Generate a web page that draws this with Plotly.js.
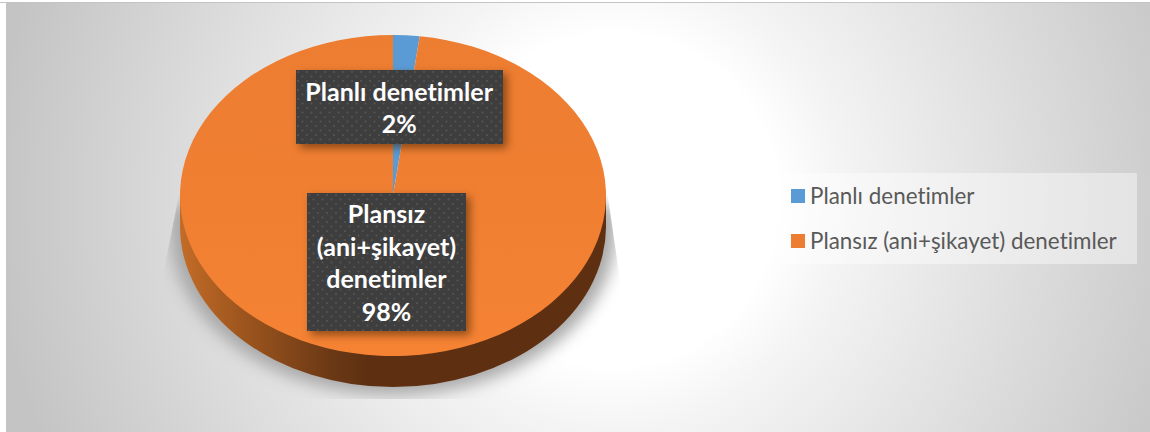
<!DOCTYPE html>
<html>
<head>
<meta charset="utf-8">
<script src="https://cdn.plot.ly/plotly-3.0.1.min.js"></script>
<style>
html,body{margin:0;padding:0;background:#fff;}
#stage{position:relative;width:1150px;height:432px;overflow:hidden;background:#fff;}
#bg{position:absolute;left:6px;top:3px;width:1144px;height:429px;background:radial-gradient(circle 620px at 606px 197px,#fff 0,#fff 165px,#f4f4f4 230px,#c4c4c4 620px);}
#topline{position:absolute;left:0;top:2px;width:1150px;height:1px;background:#c4c4c4;}
#shadowclip{position:absolute;left:0;top:0;width:1150px;height:432px;clip-path:polygon(184px 170px,164px 270px,164px 399px,622px 399px,620px 280px,604px 170px);}
#shadow{position:absolute;left:170px;top:205px;width:446px;height:190px;background:#a8a8a8;border-radius:0 0 223px 223px / 0 0 165px 165px;filter:blur(8px);}
#wall{position:absolute;left:180px;top:195.5px;width:426px;height:191.5px;background:linear-gradient(90deg,#c36c28 0,#a95c20 10%,#6a3815 36%,#5e3011 44%,#5e3011 100%);border-radius:0 0 213px 213px / 0 0 160.5px 160.5px;}
#chart{position:absolute;left:0;top:0;width:1150px;height:432px;}
</style>
</head>
<body>
<div id="stage">
  <div id="bg"></div>
  <div id="topline"></div>
  <div id="shadowclip"><div id="shadow"></div></div>
  <div id="wall"></div>
  <div id="chart"></div>
</div>
<script>
const categories = ['Planlı denetimler', 'Plansız (ani+şikayet) denetimler'];
const shares = [2, 98];
const sliceColors = ['#5b9bd5', '#ed7d31'];
const labelLines = [['Planlı denetimler'], ['Plansız', '(ani+şikayet)', 'denetimler']];

const W = 1150, H = 432;
const cx = 393, rx = 213, cyTop = 195.5, ry = 160.5;
const boxes = [
  {cx: 399.5, cy: 107, w: 207, h: 74},
  {cx: 386.5, cy: 262, w: 159, h: 138}
];

const data = [{
  type: 'pie',
  labels: categories,
  values: shares,
  sort: false,
  direction: 'clockwise',
  rotation: 0,
  textinfo: 'none',
  hoverinfo: 'skip',
  marker: {colors: sliceColors, line: {width: 0}},
  domain: {x: [(cx - rx) / W, (cx + rx) / W], y: [(H / 2 - rx) / H, (H / 2 + rx) / H]}
}];

const annotations = categories.map((c, i) => ({
  xref: 'paper', yref: 'paper',
  x: boxes[i].cx / W, y: 1 - boxes[i].cy / H,
  xanchor: 'center', yanchor: 'middle',
  width: boxes[i].w, height: boxes[i].h,
  showarrow: false, borderpad: 0, borderwidth: 0,
  bgcolor: '#3e3e3e',
  align: 'center', valign: 'middle',
  text: labelLines[i].concat([shares[i] + '%']).join('<br>'),
  font: {family: 'Lato, "Open Sans", sans-serif', size: 25, color: '#ffffff', weight: 700}
}));

const layout = {
  width: W, height: H,
  margin: {l: 0, r: 0, t: 0, b: 0},
  paper_bgcolor: 'rgba(0,0,0,0)',
  plot_bgcolor: 'rgba(0,0,0,0)',
  showlegend: true,
  legend: {
    x: 779 / W, xanchor: 'left', y: 1 - 173 / H, yanchor: 'top',
    bgcolor: 'rgba(255,255,255,0.42)', borderwidth: 0,
    font: {family: 'Lato, "Open Sans", sans-serif', size: 22.4, color: '#595959'},
    itemclick: false, itemdoubleclick: false
  },
  annotations
};

Plotly.newPlot('chart', data, layout, {displayModeBar: false, staticPlot: true}).then(gd => {
  const svgs = gd.querySelectorAll('svg.main-svg');
  const NS = 'http://www.w3.org/2000/svg';
  // squash the round pie into the tilted ellipse of the reference
  const pl = gd.querySelector('.pielayer');
  pl.setAttribute('transform', `translate(0,${cyTop}) scale(1,${ry / rx}) translate(0,${-H / 2})`);

  // dotted label fill and the soft light on the pie top
  const defsMarkup = '<pattern id="dots" width="9" height="9" patternUnits="userSpaceOnUse">' +
    '<rect width="9" height="9" fill="#3e3e3e"/>' +
    '<circle cx="2" cy="2" r="1" fill="#565656"/><circle cx="6.5" cy="6.5" r="1" fill="#565656"/></pattern>' +
    '<linearGradient id="topLight" x1="0" y1="0" x2="0" y2="1">' +
    '<stop offset="0" stop-color="#ed7d31"/><stop offset="0.55" stop-color="#f07f32"/><stop offset="1" stop-color="#f68334"/></linearGradient>';
  svgs.forEach(s => {
    const defs = document.createElementNS(NS, 'defs');
    defs.innerHTML = defsMarkup;
    s.insertBefore(defs, s.firstChild);
  });
  const slices = gd.querySelectorAll('.pielayer .slice path.surface');
  if (slices[1]) slices[1].style.fill = 'url(#topLight)';

  gd.querySelectorAll('.annotation-text-g rect.bg, .annotation rect.bg').forEach(r => {
    r.style.fill = 'url(#dots)';
    r.style.filter = 'drop-shadow(4px 4px 4px rgba(60,30,0,0.55))';
  });

  // Calibri-like text has no ti ligature
  gd.querySelectorAll('text').forEach(t => {
    t.style.fontVariantLigatures = 'none';
    t.style.fontFeatureSettings = '"liga" 0, "clig" 0';
    t.style.letterSpacing = '0.01px';
  });

  // legend geometry
  const lg = gd.querySelector('.legend');
  if (lg) {
    const LW = 358, LH = 91, rows = [22, 67];
    lg.querySelectorAll('rect.bg').forEach(r => { r.setAttribute('width', LW); r.setAttribute('height', LH); });
    const clip = document.querySelectorAll('[id^="legend"] rect, clipPath[id*="legend"] rect');
    clip.forEach(r => { r.setAttribute('width', LW); r.setAttribute('height', LH); });
    lg.querySelectorAll('.traces').forEach((t, i) => {
      t.setAttribute('transform', `translate(0,${rows[i]})`);
      const sw = t.querySelector('.legendpoints path, .legendpie');
      if (sw) {
        sw.setAttribute('d', 'M-7,-7H7V7H-7Z');
        sw.setAttribute('transform', 'translate(19,1)');
        sw.style.strokeWidth = 0;
      }
      const tx = t.querySelector('text.legendtext');
      if (tx) tx.setAttribute('x', 31);
    });
    lg.querySelectorAll('.legendtoggle').forEach(r => r.remove());
  }
});
</script>
</body>
</html>
